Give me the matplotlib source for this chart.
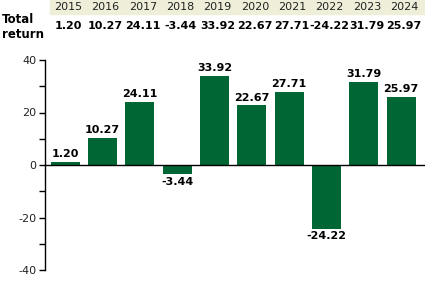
import matplotlib
matplotlib.use("Agg")
import matplotlib.pyplot as plt
from matplotlib.patches import Rectangle
from matplotlib.transforms import blended_transform_factory
from matplotlib.ticker import MultipleLocator

plt.rcParams["axes.unicode_minus"] = False

years = ["2015", "2016", "2017", "2018", "2019", "2020", "2021", "2022", "2023", "2024"]
returns = [1.20, 10.27, 24.11, -3.44, 33.92, 22.67, 27.71, -24.22, 31.79, 25.97]

bar_color = "#006633"
header_bg = "#efeed9"

fig = plt.figure(figsize=(4.25, 2.88), dpi=100)
ax = fig.add_axes([45 / 425, 18 / 288, 380 / 425, 210 / 288])

x = list(range(len(years)))
ax.bar(x, returns, width=0.78, color=bar_color, zorder=2)
ax.axhline(0, color="black", lw=1, zorder=3)

for xi, v in zip(x, returns):
    if v >= 0:
        ax.annotate(f"{v:.2f}", (xi, v), xytext=(0, 2), textcoords="offset points",
                    ha="center", va="bottom", fontsize=8, fontweight="bold")
    else:
        ax.annotate(f"{v:.2f}", (xi, v), xytext=(0, -2), textcoords="offset points",
                    ha="center", va="top", fontsize=8, fontweight="bold")

ax.set_xlim(-0.54, 9.64)
ax.set_ylim(-40, 40)
ax.yaxis.set_major_locator(MultipleLocator(20))
ax.yaxis.set_minor_locator(MultipleLocator(10))
ax.tick_params(axis="y", which="both", direction="out", length=4, width=1,
               labelsize=8, labelcolor="#222222", pad=2)
ax.set_xticks([])
for s in ["top", "right", "bottom"]:
    ax.spines[s].set_visible(False)
ax.spines["left"].set_linewidth(1)

# header table
fig.patches.append(Rectangle((50 / 425, 1 - 14 / 288), 375 / 425, 14 / 288,
                             transform=fig.transFigure, color=header_bg, zorder=-1))
trans = blended_transform_factory(ax.transData, fig.transFigure)
for xi, yr, v in zip(x, years, returns):
    ax.text(xi + 0.08, 1 - 7 / 288, yr, transform=trans, ha="center", va="center",
            fontsize=8, color="#222222")
    ax.text(xi + 0.08, 1 - 26 / 288, f"{v:.2f}", transform=trans, ha="center", va="center",
            fontsize=8, fontweight="bold")
fig.text(2 / 425, 1 - 27 / 288, "Total\nreturn", ha="left", va="center",
         fontsize=8.5, fontweight="bold", linespacing=1.15)

fig.savefig("out.png", dpi=100)
